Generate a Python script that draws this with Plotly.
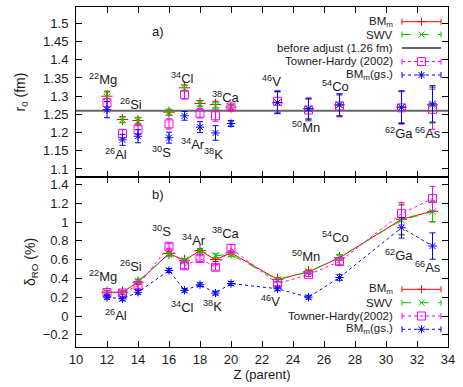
import plotly.graph_objects as go

# ---------------- data ----------------
Z = [12, 13, 14, 16, 17, 18, 19, 20, 23, 25, 27, 31, 33]
nuclides = ["<sup>22</sup>Mg", "<sup>26</sup>Al", "<sup>26</sup>Si", "<sup>30</sup>S", "<sup>34</sup>Cl",
            "<sup>34</sup>Ar", "<sup>38</sup>K", "<sup>38</sup>Ca", "<sup>46</sup>V", "<sup>50</sup>Mn",
            "<sup>54</sup>Co", "<sup>62</sup>Ga", "<sup>66</sup>As"]

# panel a) r0 (fm)
r0_bm = [1.300, 1.236, 1.233, 1.256, 1.323, 1.280, 1.277, 1.270, 1.282, 1.266, 1.276, 1.270, 1.276]
r0_bm_err = [0.014, 0.008, 0.009, 0.008, 0.008, 0.008, 0.009, 0.006, 0.030, 0.027, 0.031, 0.043, 0.049]
r0_swv = [1.298, 1.235, 1.232, 1.256, 1.322, 1.279, 1.273, 1.270, 1.282, 1.265, 1.276, 1.269, 1.275]
r0_swv_err = [0.013, 0.008, 0.009, 0.008, 0.008, 0.008, 0.009, 0.006, 0.030, 0.027, 0.031, 0.043, 0.048]
r0_th = [1.282, 1.197, 1.208, 1.224, 1.304, 1.253, 1.246, 1.270, 1.286, 1.262, 1.273, 1.268, 1.264]
r0_th_err = [0.012, 0.012, 0.013, 0.014, 0.012, 0.013, 0.015, 0.006, 0.030, 0.030, 0.030, 0.045, 0.055]
r0_gs = [1.263, 1.180, 1.190, 1.186, 1.246, 1.215, 1.199, 1.225, 1.283, 1.265, 1.276, 1.270, 1.279]
r0_gs_err = [0.022, 0.015, 0.018, 0.015, 0.012, 0.015, 0.020, 0.008, 0.030, 0.030, 0.030, 0.045, 0.050]
r0_before = 1.26
z_range = [10, 34]

# panel b) delta_RO (%)
d_bm = [0.253, 0.253, 0.360, 0.665, 0.593, 0.697, 0.600, 0.672, 0.390, 0.470, 0.620, 1.030, 1.115]
d_bm_err = [0.02, 0.02, 0.025, 0.02, 0.02, 0.02, 0.02, 0.02, 0.02, 0.02, 0.03, 0.16, 0.11]
d_swv = [0.250, 0.250, 0.370, 0.655, 0.590, 0.690, 0.643, 0.654, 0.385, 0.470, 0.625, 1.020, 1.110]
d_swv_err = [0.02, 0.02, 0.025, 0.02, 0.02, 0.02, 0.02, 0.02, 0.02, 0.02, 0.03, 0.16, 0.11]
d_th = [0.250, 0.245, 0.325, 0.743, 0.535, 0.611, 0.519, 0.720, 0.345, 0.440, 0.580, 1.090, 1.250]
d_th_err = [0.02, 0.02, 0.03, 0.03, 0.03, 0.03, 0.03, 0.04, 0.02, 0.02, 0.03, 0.12, 0.13]
d_gs = [0.200, 0.183, 0.253, 0.485, 0.273, 0.333, 0.244, 0.346, 0.290, 0.200, 0.410, 0.940, 0.745]
d_gs_err = [0.02, 0.02, 0.02, 0.02, 0.02, 0.02, 0.02, 0.02, 0.02, 0.02, 0.03, 0.11, 0.14]

# label placement (layout, not data)
lab_a_x = [11.76, 12.58, 13.58, 15.54, 16.9, 17.55, 18.85, 19.68, 22.6, 24.82, 26.74, 30.81, 32.73]
lab_a_y = [1.347, 1.142, 1.279, 1.148, 1.349, 1.169, 1.142, 1.297, 1.342, 1.214, 1.328, 1.199, 1.199]
lab_b_x = [11.76, 12.58, 13.58, 15.54, 16.9, 17.64, 18.8, 19.68, 22.55, 24.82, 26.74, 30.81, 32.73]
lab_b_y = [0.422, 0.013, 0.536, 0.902, 0.096, 0.806, 0.110, 0.885, 0.155, 0.643, 0.842, 0.653, 0.520]

RED, GREEN, MAG, BLUE, GRAY = "#ff0000", "#00cc00", "#ff00ff", "#0000ff", "#666666"
FONT = "Liberation Sans, Arial, sans-serif"
TXT = "#1a1a1a"

fig = go.Figure()


def add_series(x, y, err, color, dash, symbol, size, xa, ya, mode):
    fig.add_trace(go.Scatter(
        x=x, y=y, mode=mode, xaxis=xa, yaxis=ya, showlegend=False,
        line=dict(color=color, width=1, dash=dash),
        marker=dict(symbol=symbol, size=size, color=color, line=dict(color=color, width=1)),
        error_y=dict(type="data", array=err, visible=True, color=color, thickness=1, width=3),
    ))


# panel a (top)
fig.add_trace(go.Scatter(x=z_range, y=[r0_before, r0_before], mode="lines", xaxis="x2", yaxis="y2",
                         showlegend=False, line=dict(color=GRAY, width=2)))
add_series(Z, r0_bm, r0_bm_err, RED, "solid", "cross-thin-open", 8, "x2", "y2", "markers")
add_series(Z, r0_swv, r0_swv_err, GREEN, "dash", "x-thin-open", 7, "x2", "y2", "markers")
add_series(Z, r0_th, r0_th_err, MAG, "dot", "square-open", 8, "x2", "y2", "markers")
add_series(Z, r0_gs, r0_gs_err, BLUE, "dot", "asterisk-open", 7, "x2", "y2", "markers")

# panel b (bottom)
add_series(Z, d_bm, d_bm_err, RED, "solid", "cross-thin-open", 8, "x", "y", "lines+markers")
add_series(Z, d_swv, d_swv_err, GREEN, "dash", "x-thin-open", 7, "x", "y", "lines+markers")
add_series(Z, d_th, d_th_err, MAG, "dot", "square-open", 8, "x", "y", "lines+markers")
add_series(Z, d_gs, d_gs_err, BLUE, "dot", "asterisk-open", 7, "x", "y", "lines+markers")

annotations = []
for t, xx, yy in zip(nuclides, lab_a_x, lab_a_y):
    annotations.append(dict(x=xx, y=yy, xref="x2", yref="y2", text=t, showarrow=False,
                            font=dict(size=13, color=TXT, family=FONT)))
for t, xx, yy in zip(nuclides, lab_b_x, lab_b_y):
    annotations.append(dict(x=xx, y=yy, xref="x", yref="y", text=t, showarrow=False,
                            font=dict(size=13, color=TXT, family=FONT)))
annotations.append(dict(x=15.32, y=1.477, xref="x2", yref="y2", text="a)", showarrow=False,
                        font=dict(size=13, color=TXT, family=FONT)))
annotations.append(dict(x=15.3, y=1.293, xref="x", yref="y", text="b)", showarrow=False,
                        font=dict(size=13, color=TXT, family=FONT)))

# ---- custom gnuplot-style legends (pixel -> paper helpers) ----
L, R, T, B = 76, 448, 7, 347


def px(x):
    return (x - L) / (R - L)


def py(y):
    return (B - y) / (B - T)


shapes = []


def seg(x0, y0, x1, y1, color, dash="solid", w=1):
    shapes.append(dict(type="line", xref="paper", yref="paper", x0=px(x0), y0=py(y0), x1=px(x1), y1=py(y1),
                       line=dict(color=color, width=w, dash=dash)))


def legend_row(y, text, color, dash, marker, caps=True, w=1):
    annotations.append(dict(x=px(395), y=py(y), xref="paper", yref="paper", xanchor="right", yanchor="middle",
                            text=text, showarrow=False, font=dict(size=11.5, color=TXT, family=FONT)))
    seg(402, y, 441, y, color, dash, w)
    if caps:
        seg(402, y - 3, 402, y + 3, color)
        seg(441, y - 3, 441, y + 3, color)
    cx = 421.5
    if marker in ("+", "*"):
        seg(cx - 4, y, cx + 4, y, color)
        seg(cx, y - 4, cx, y + 4, color)
    if marker in ("x", "*"):
        seg(cx - 3, y - 3, cx + 3, y + 3, color)
        seg(cx - 3, y + 3, cx + 3, y - 3, color)
    if marker == "s":
        shapes.append(dict(type="rect", xref="paper", yref="paper", x0=px(cx - 4), x1=px(cx + 4),
                           y0=py(y - 4), y1=py(y + 4), line=dict(color=color, width=1)))


legend_row(21.7, "BM<sub>m</sub>", RED, "solid", "+")
legend_row(34.5, "SWV", GREEN, "dash", "x")
legend_row(48.0, "before adjust (1.26 fm)", GRAY, "solid", None, caps=False, w=2)
legend_row(61.5, "Towner-Hardy (2002)", MAG, "dot", "s")
legend_row(75.0, "BM<sub>m</sub>(gs.)", BLUE, "dot", "*")

legend_row(289.3, "BM<sub>m</sub>", RED, "solid", "+")
legend_row(302.7, "SWV", GREEN, "dash", "x")
legend_row(316.0, "Towner-Hardy(2002)", MAG, "dot", "s")
legend_row(329.3, "BM<sub>m</sub>(gs.)", BLUE, "dot", "*")

axis_common = dict(showline=True, linecolor="black", linewidth=1, mirror="ticks", ticks="inside",
                   ticklen=6, tickcolor="black", showgrid=False, zeroline=False, automargin=False,
                   tickfont=dict(size=13, color=TXT, family=FONT))

fig.update_layout(
    width=463, height=387,
    margin=dict(l=L, r=463 - R, t=T, b=387 - B, autoexpand=False),
    paper_bgcolor="white", plot_bgcolor="white",
    font=dict(family=FONT, color=TXT, size=13),
    showlegend=False,
    xaxis=dict(domain=[0, 1], range=z_range, tick0=10, dtick=2, anchor="y",
               title=dict(text="Z (parent)", font=dict(size=13, color=TXT), standoff=2), **axis_common),
    yaxis=dict(domain=[0, 0.5], range=[-0.33, 1.48], tick0=0, dtick=0.2, anchor="x",
               ticklabelstandoff=4,
               title=dict(text="δ<sub>RO</sub> (%)", font=dict(size=14, color=TXT), standoff=3), **axis_common),
    xaxis2=dict(domain=[0, 1], range=z_range, tick0=10, dtick=2, anchor="y2", matches="x",
                showticklabels=False, **axis_common),
    yaxis2=dict(domain=[0.5, 1], range=[1.078, 1.545], tick0=1.1, dtick=0.05, anchor="x2",
                ticklabelstandoff=4,
                title=dict(text="r<sub>0</sub> (fm)", font=dict(size=14, color=TXT), standoff=14), **axis_common),
    annotations=annotations,
    shapes=shapes,
)

fig.write_html("out.html", config={"displayModeBar": False},
               post_script="document.body.style.margin='0px';")
